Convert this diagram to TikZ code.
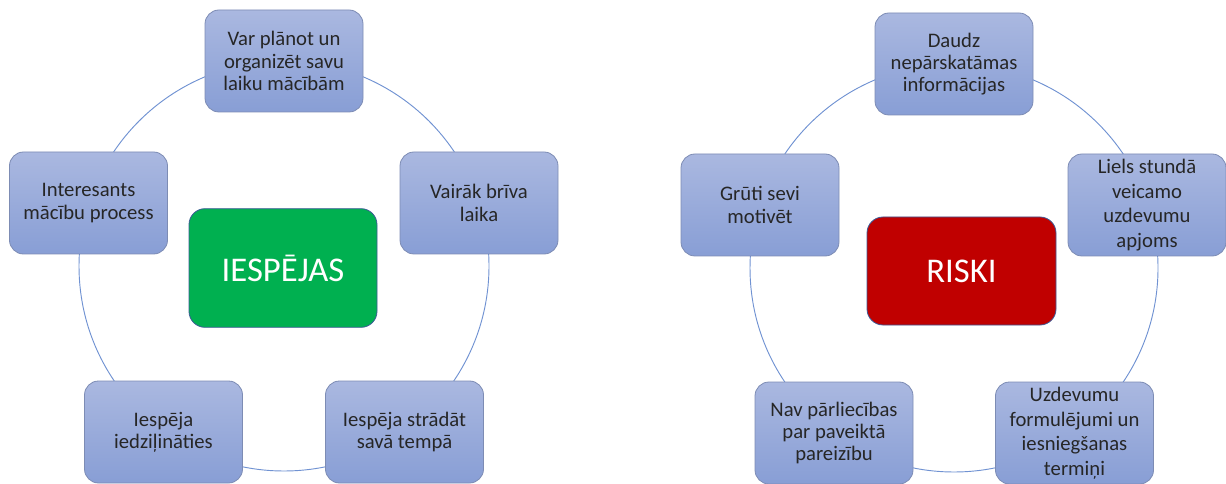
\documentclass[tikz,border=0pt]{standalone}
\usepackage{fontspec}
\setmainfont{Carlito}
\definecolor{boxtop}{RGB}{170,184,224}
\definecolor{boxbot}{RGB}{136,158,213}
\definecolor{boxline}{RGB}{125,140,180}
\definecolor{ringline}{RGB}{112,146,210}
\definecolor{okgreen}{RGB}{0,176,80}
\definecolor{riskred}{RGB}{192,0,0}
\definecolor{coreline}{RGB}{60,90,150}
\begin{document}
\begin{tikzpicture}[x=0.75pt,y=-0.75pt,
                    idea node/.style={rectangle,rounded corners=10.5pt,draw=boxline,line width=0.6pt,
                      top color=boxtop,bottom color=boxbot,minimum width=118.5pt,minimum height=76.5pt,
                      inner sep=0pt,align=center,text=black!85,font=\fontsize{15.5pt}{16.8pt}\selectfont},
                    tall text/.style={font=\fontsize{15.5pt}{18.4pt}\selectfont},
                    core node/.style={rectangle,rounded corners=12pt,draw=coreline,line width=0.6pt,
                      inner sep=0pt,text=white,font=\fontsize{26pt}{30pt}\selectfont},
                    ring/.style={draw=ringline,line width=0.7pt}
                   ]
  \useasboundingbox (0,0) rectangle (1226,484);
  \coordinate (lo) at (284,266);
  \coordinate (ro) at (954,268);
  \draw[ring] (lo) circle (205);
  \draw[ring] (ro) circle (204);
  % left ring
  \node[core node,fill=okgreen,minimum width=141pt,minimum height=89pt] (lc) at (283,268) {IESPĒJAS};
  \node[idea node] (l0) at (284,61) {Var plānot un\\organizēt savu\\laiku mācībām};
  \node[idea node] (l1) at (479,203) {Vairāk brīva\\laika};
  \node[idea node] (l2) at (404.5,432) {Iespēja strādāt\\savā tempā};
  \node[idea node] (l3) at (163.5,432) {Iespēja\\iedziļināties};
  \node[idea node] (l4) at (88.5,203) {Interesants\\mācību process};
  % right ring
  \node[core node,fill=riskred,minimum width=141.75pt,minimum height=81pt] (rc) at (961.5,271) {RISKI};
  \node[idea node] (r0) at (954,64) {Daudz\\nepārskatāmas\\informācijas};
  \node[idea node,tall text] (r1) at (1147,205) {Liels stundā\\veicamo\\uzdevumu\\apjoms};
  \node[idea node,tall text] (r2) at (1074.5,433) {Uzdevumu\\formulējumi un\\iesniegšanas\\termiņi};
  \node[idea node] (r3) at (834,433) {Nav pārliecības\\par paveiktā\\pareizību};
  \node[idea node] (r4) at (760,205) {Grūti sevi\\motivēt};
\end{tikzpicture}
\end{document}
